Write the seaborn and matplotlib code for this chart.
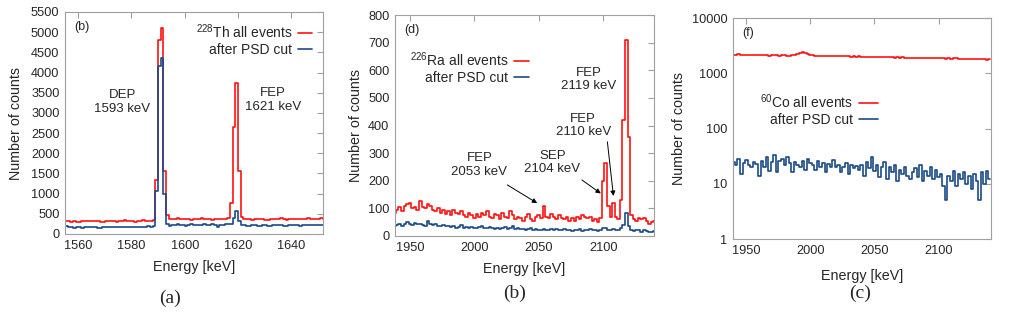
import numpy as np
import matplotlib
matplotlib.use("Agg")
import matplotlib.pyplot as plt
import seaborn as sns
from matplotlib.ticker import MultipleLocator, FixedLocator, FuncFormatter, NullLocator

# ---- data ----
# (a) 228Th, 1 keV bins, bin centres 1555.5 ... 1652.5
th_energy = np.arange(1555, 1653) + 0.5
th_all = [330, 320, 300, 310, 300, 305, 320, 310, 315, 320,
          330, 315, 320, 300, 290, 310, 320, 330, 315, 300,
          310, 320, 335, 330, 310, 320, 300, 320, 330, 340,
          320, 330, 310, 350, 1350, 4800, 5100, 1550, 460, 380,
          370, 370, 390, 370, 360, 380, 370, 350, 360, 380,
          370, 390, 360, 370, 380, 350, 360, 370, 380, 360,
          370, 390, 780, 2650, 3750, 1550, 430, 380, 360, 370,
          350, 360, 380, 370, 360, 350, 340, 370, 360, 380,
          370, 390, 360, 350, 380, 370, 360, 380, 370, 360,
          380, 390, 370, 360, 380, 370, 390, 380]
th_psd = [190, 180, 170, 160, 170, 175, 160, 170, 180, 175,
          165, 170, 160, 150, 165, 175, 180, 170, 175, 165,
          170, 180, 175, 170, 165, 180, 175, 170, 180, 175,
          185, 190, 180, 200, 1070, 4150, 4350, 1000, 260, 210,
          230, 220, 240, 230, 220, 210, 230, 240, 225, 235,
          220, 215, 260, 230, 220, 240, 230, 180, 215, 225,
          240, 250, 250, 400, 560, 330, 230, 220, 200, 210,
          215, 225, 210, 200, 215, 220, 210, 205, 215, 225,
          230, 220, 210, 200, 215, 220, 225, 215, 210, 230,
          220, 215, 225, 230, 220, 215, 225, 230]

# (b) 226Ra and (c) 60Co, 2 keV bins, bin centres 1938 ... 2140
hi_energy = np.arange(1938, 2141, 2)
ra_all = [85, 95, 105, 90, 110, 115, 120, 100, 105, 95,
          125, 105, 100, 115, 110, 95, 90, 100, 85, 95,
          80, 90, 75, 95, 85, 80, 90, 75, 70, 85,
          75, 65, 80, 70, 85, 75, 90, 70, 65, 80,
          75, 60, 85, 70, 65, 90, 75, 60, 70, 65,
          55, 70, 80, 60, 55, 70, 75, 65, 110, 70,
          65, 80, 70, 60, 75, 65, 60, 70, 55, 65,
          55, 70, 60, 75, 70, 65, 70, 55, 60, 50,
          65, 200, 265, 110, 70, 120, 70, 60, 130, 420,
          710, 360, 75, 60, 55, 65, 60, 65, 55, 45,
          50, 55]
ra_psd = [35, 40, 45, 38, 42, 50, 45, 40, 48, 42,
          45, 40, 38, 55, 45, 40, 42, 35, 38, 40,
          35, 38, 32, 36, 30, 34, 40, 30, 33, 28,
          32, 30, 28, 33, 35, 30, 28, 32, 30, 27,
          30, 25, 28, 32, 26, 30, 35, 25, 28, 24,
          26, 22, 24, 28, 22, 25, 20, 23, 25, 22,
          20, 24, 22, 26, 20, 23, 25, 20, 22, 18,
          22, 20, 25, 18, 22, 20, 24, 20, 22, 19,
          22, 30, 28, 22, 20, 25, 22, 20, 30, 40,
          85, 35, 20, 18, 22, 20, 15, 22, 18, 14,
          16, 18]
co_all = [2200, 2180, 2150, 2200, 2170, 2140, 2160, 2130, 2120, 2150,
          2110, 2140, 2100, 2130, 2120, 2090, 2110, 2130, 2100, 2080,
          2100, 2120, 2090, 2070, 2100, 2150, 2200, 2300, 2400, 2350,
          2200, 2120, 2100, 2080, 2060, 2090, 2070, 2050, 2080, 2040,
          2060, 2030, 2050, 2020, 2040, 2010, 2030, 2000, 2020, 1990,
          2010, 1980, 2000, 1970, 1990, 1960, 1980, 2000, 1950, 1970,
          1940, 1960, 1930, 1950, 1920, 1940, 1910, 1930, 1900, 1920,
          1890, 1910, 1880, 1900, 1870, 1890, 1860, 1880, 1900, 1870,
          1860, 1880, 1850, 1870, 1840, 1860, 1830, 1850, 1870, 1840,
          1820, 1840, 1810, 1830, 1800, 1820, 1790, 1810, 1780, 1800,
          1770, 1790]
co_psd = [20, 25, 22, 28, 15, 24, 27, 22, 20, 25,
          23, 14, 26, 20, 30, 17, 25, 33, 16, 26,
          28, 22, 30, 24, 16, 25, 22, 20, 26, 18,
          28, 24, 22, 18, 26, 20, 24, 16, 23, 20,
          27, 20, 22, 16, 20, 24, 15, 22, 19, 21,
          18, 22, 14, 25, 19, 30, 17, 22, 13, 20,
          25, 12, 20, 16, 22, 11, 18, 15, 20, 14,
          12, 16, 19, 13, 22, 11, 17, 14, 20, 12,
          18, 13, 15, 9, 5, 14, 11, 17, 9, 15,
          12, 16, 10, 14, 8, 15, 11, 5, 16, 10,
          17, 12]

RED = "#ff1010"
BLUE = "#1b4a88"
FRAME = "#a0a0a0"

sns.set_style("white")
plt.rcParams["font.family"] = ["Liberation Sans", "DejaVu Sans"]
plt.rcParams["mathtext.fontset"] = "custom"
plt.rcParams["mathtext.rm"] = "Liberation Sans"
plt.rcParams["mathtext.it"] = "Liberation Sans:italic"

fig = plt.figure(figsize=(10.1, 3.18), dpi=100)
W, H = 1010, 318


def make_axes(l, r, t, b):
    return fig.add_axes([l / W, 1 - b / H, (r - l) / W, (b - t) / H])


def style(ax, tag, xpad=4, ypad=4):
    for sp in ax.spines.values():
        sp.set_color(FRAME)
        sp.set_linewidth(0.8)
    ax.tick_params(direction="in", length=4, color=FRAME, top=True, right=True,
                   labelsize=9.2, pad=4)
    ax.tick_params(which="minor", length=0)
    ax.set_xlabel("Energy [keV]", fontsize=10.3, labelpad=xpad)
    ax.set_ylabel("Number of counts", fontsize=10.3, labelpad=ypad)
    ax.text(0.035, 0.932, tag, transform=ax.transAxes, fontsize=9, va="center")


def draw(ax, x, y_all, y_psd, src):
    sns.lineplot(x=x, y=y_all, ax=ax, color=RED, lw=1.2, drawstyle="steps-mid",
                 errorbar=None, label=src + " all events")
    sns.lineplot(x=x, y=y_psd, ax=ax, color=BLUE, lw=1.2, drawstyle="steps-mid",
                 errorbar=None, label="after PSD cut")


def legend(ax, anchor, hl):
    ax.legend(loc="upper right", bbox_to_anchor=anchor, frameon=False,
              markerfirst=False, fontsize=10, handlelength=hl, handletextpad=0.4,
              labelspacing=0.15, borderpad=0, borderaxespad=0)


# ---- (a) ----
ax1 = make_axes(65, 323, 12, 234)
draw(ax1, th_energy, th_all, th_psd, r"$^{228}$Th")
ax1.set_xlim(1555, 1652)
ax1.set_ylim(0, 5500)
ax1.xaxis.set_major_locator(MultipleLocator(20))
ax1.yaxis.set_major_locator(MultipleLocator(500))
style(ax1, "(b)", xpad=6, ypad=6)
legend(ax1, (0.957, 0.955), 1.0)
ax1.text(1576.6, 3270, "DEP\n1593 keV", ha="center", va="center", fontsize=9.5,
         linespacing=1.15)
ax1.text(1633.3, 3320, "FEP\n1621 keV", ha="center", va="center", fontsize=9.5,
         linespacing=1.15)

# ---- (b) ----
ax2 = make_axes(395, 654, 15, 236)
draw(ax2, hi_energy, ra_all, ra_psd, r"$^{226}$Ra")
ax2.set_xlim(1938.4, 2139.5)
ax2.set_ylim(0, 800)
ax2.xaxis.set_major_locator(MultipleLocator(50))
ax2.yaxis.set_major_locator(MultipleLocator(100))
style(ax2, "(d)", xpad=6)
legend(ax2, (0.517, 0.84), 1.1)
notes = [("FEP\n2119 keV", (2089, 567), None, None),
         ("FEP\n2110 keV", (2084.5, 400), (2103.3, 341), (2108, 145)),
         ("SEP\n2104 keV", (2060.5, 266), (2083.5, 203), (2098.2, 154)),
         ("FEP\n2053 keV", (2004, 257), (2025.6, 185), (2048.8, 119))]
for txt, pos, start, end in notes:
    ax2.text(pos[0], pos[1], txt, ha="center", va="center", fontsize=9.5,
             linespacing=1.15)
    if start is not None:
        ax2.annotate("", xy=end, xytext=start,
                     arrowprops=dict(arrowstyle="-|>", color="black", lw=0.7,
                                     mutation_scale=7, shrinkA=0, shrinkB=0))

# ---- (c) ----
ax3 = make_axes(733, 991, 18, 239)
draw(ax3, hi_energy, co_all, co_psd, r"$^{60}$Co")
ax3.set_yscale("log")
ax3.set_xlim(1939.5, 2141)
ax3.set_ylim(1, 10000)
ax3.xaxis.set_major_locator(MultipleLocator(50))
ax3.yaxis.set_major_locator(FixedLocator([1, 10, 100, 1000, 10000]))
ax3.yaxis.set_minor_locator(NullLocator())
ax3.yaxis.set_major_formatter(FuncFormatter(lambda v, p: f"{v:.0f}"))
style(ax3, "(f)", xpad=9)
legend(ax3, (0.562, 0.665), 1.4)

for x, y, s in [(170, 298, "(a)"), (515, 293, "(b)"), (860, 293, "(c)")]:
    fig.text(x / W, 1 - y / H, s, ha="center", va="center", fontsize=14,
             family="Liberation Serif")

fig.savefig("out.png", dpi=100)
